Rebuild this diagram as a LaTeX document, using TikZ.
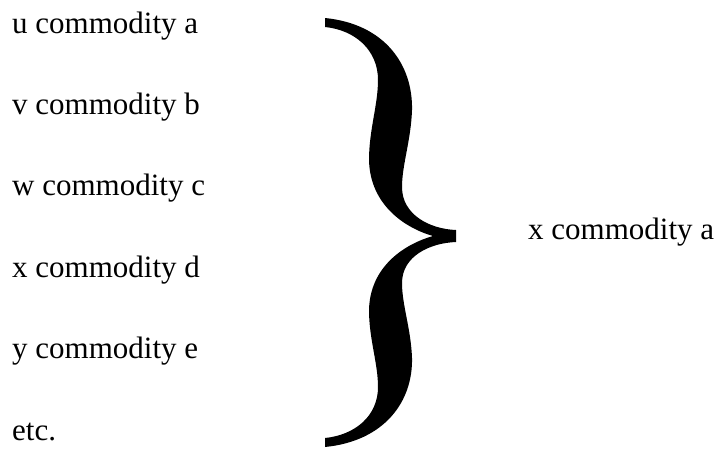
\documentclass[tikz,border=0pt]{standalone}
\usepackage{fontspec}
\setmainfont{Liberation Serif}
\usetikzlibrary{positioning}
\tikzset{
  item/.style={anchor=base west, inner sep=0pt, font=\fontsize{31}{37}\selectfont},
  brace/.style={fill=black, draw=none},
}
\begin{document}
\begin{tikzpicture}[x=1pt,y=-1pt]
  \useasboundingbox (0,0) rectangle (720,450);

  % ---- left column: the commodities ----
  \node[item] (cu) at (12,33)    {u commodity a};
  \node[item] (cv) at (12,114.4) {v commodity b};
  \node[item] (cw) at (12,195.8) {w commodity c};
  \node[item] (cx) at (12,277.2) {x commodity d};
  \node[item] (cy) at (12,358.6) {y commodity e};
  \node[item] (cetc) at (12,440) {etc.};

  % ---- the big brace ----
  \fill[brace] (325,18) .. controls (385,24) and (413,65) .. (412,110)
        .. controls (411,140) and (402,165) .. (402,187)
        .. controls (402,215) and (430,229) .. (456,230)
        -- (456,242)
        .. controls (430,243) and (402,256) .. (402,283)
        .. controls (402,305) and (411,329) .. (412,358)
        .. controls (413,401) and (385,441) .. (325,447)
        -- (325,438)
        .. controls (355,435) and (378,416) .. (378,387)
        .. controls (378,363) and (369,339) .. (369,310)
        .. controls (370,266) and (405,244) .. (433,236)
        .. controls (405,228) and (370,205) .. (369,160)
        .. controls (369,130) and (378,105) .. (378,80)
        .. controls (378,50) and (355,30) .. (325,27) -- cycle;

  % ---- right: the result ----
  \node[item] (res) at (528,239) {x commodity a};

\end{tikzpicture}
\end{document}
